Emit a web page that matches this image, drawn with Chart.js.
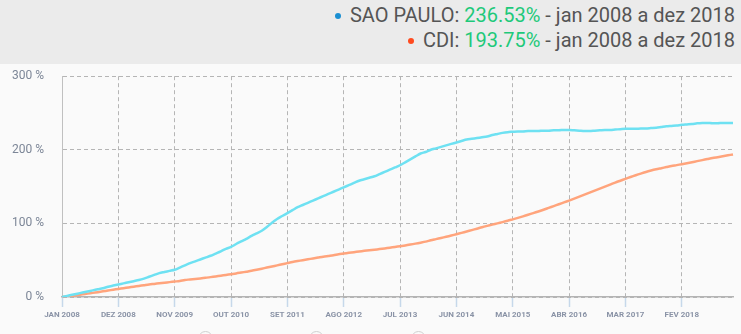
<!DOCTYPE html>
<html>
<head>
<meta charset="utf-8">
<script src="https://cdn.jsdelivr.net/npm/chart.js@4.4.1/dist/chart.umd.min.js"></script>
<style>
  html, body { margin: 0; padding: 0; }
  body { width: 741px; height: 334px; background: #fafafa; position: relative; overflow: hidden; font-family: Roboto, sans-serif; }
  #hdr { position: absolute; left: 0; top: 0; width: 741px; height: 64px; background: #ebebeb; z-index: 2; }
  .ln { position: absolute; right: 6px; font-size: 20px; color: #555; white-space: nowrap; line-height: 22px; }
  .ln .pct { color: #1ec97a; }
  .dot { display: inline-block; width: 6px; height: 6px; border-radius: 50%; vertical-align: middle; margin-right: 9px; position: relative; top: -1px; }
  #wrap { position: absolute; left: 0; top: 51px; width: 741px; height: 283px; z-index: 1; }
  .knob { position: absolute; top: 331px; width: 13px; height: 13px; border-radius: 50%; border: 1.5px solid #cfcfcf; background: #fafafa; z-index: 3; }
</style>
</head>
<body>
<div id="hdr">
  <div class="ln" style="top:4px"><span class="dot" style="background:#1a8fd2"></span>SAO PAULO: <span class="pct">236.53%</span> - jan 2008 a dez 2018</div>
  <div class="ln" style="top:29px"><span class="dot" style="background:#ff4b1f"></span>CDI: <span class="pct">193.75%</span> - jan 2008 a dez 2018</div>
</div>
<div id="wrap"><canvas id="c"></canvas></div>
<div class="knob" style="left:198px"></div>
<div class="knob" style="left:309px"></div>
<div class="knob" style="left:411px"></div>
<script>
const monthNames = ['JAN','FEV','MAR','ABR','MAI','JUN','JUL','AGO','SET','OUT','NOV','DEZ'];
const years = [2008,2009,2010,2011,2012,2013,2014,2015,2016,2017,2018];
const categories = [];
years.forEach(y => monthNames.forEach(m => categories.push(m + ' ' + y)));

const yTicks = [0, 100, 200, 300];

const saoPaulo = [
  0, 1.5, 3, 4.5, 6, 7.5, 9, 10.5, 12, 14, 15.5, 17,
  18.5, 20, 21.5, 23, 25, 27.5, 30, 32.5, 34, 35.5, 37, 40,
  43, 46, 48.5, 51, 53.5, 56, 59, 62, 65.5, 68, 72, 75.5,
  79, 83, 86.5, 90, 95, 101, 106, 110, 114, 118, 122, 125,
  128, 131, 134, 137, 140, 143, 146, 149, 152, 155, 158, 160,
  162, 164, 167, 170, 173, 176, 179, 183, 187, 191, 195, 197,
  200, 202, 204, 206, 208, 210, 212, 214, 215, 216, 217, 218,
  220, 221.5, 223, 224, 224.5, 225, 225, 225.5, 225.5, 225.5, 226, 226,
  226.5, 226.5, 227, 227, 226.5, 226, 225.5, 225.5, 226, 226.5, 227, 227,
  227.5, 228, 228.5, 228.5, 228.5, 229, 229, 229.5, 230, 231, 232, 232.5,
  233, 234, 234.5, 235, 236, 236.5, 236.5, 236, 236, 236.5, 236.5, 236.53
];

const cdi = [
  0, 0.8, 1.7, 2.6, 3.6, 4.6, 5.6, 6.6, 7.7, 8.8, 9.9, 11,
  12, 13, 14, 15, 16, 17, 17.8, 18.6, 19.4, 20.2, 21, 21.8,
  23.2, 23.8, 24.5, 25.2, 26, 27, 28, 29, 30, 31, 32, 33.2,
  34.4, 35.6, 37, 38.5, 40, 41.5, 43, 44.5, 46, 47.5, 48.8, 50,
  51.2, 52.4, 53.6, 54.8, 55.8, 56.8, 58, 59, 60, 60.9, 61.8, 62.7,
  63.5, 64.3, 65.1, 66, 67, 68, 69, 70, 71.2, 72.5, 73.8, 75.2,
  77, 78.6, 80.2, 81.8, 83.5, 85.3, 87.1, 89, 90.9, 92.8, 94.8, 96.6,
  98.3, 100, 101.7, 103.5, 105.5, 107.5, 109.6, 111.8, 114, 116.2, 118.5, 121,
  123.5, 126, 128.5, 131, 133.6, 136.3, 139, 141.8, 144.6, 147.3, 150, 152.8,
  155.5, 158, 160.5, 163, 165.4, 167.7, 169.9, 171.8, 173.5, 175, 176.5, 178,
  179.2, 180.5, 181.8, 183.2, 184.6, 186, 187.4, 188.8, 190, 191.2, 192.5, 193.75
];

const tickEvery = 11;

new Chart(document.getElementById('c'), {
  type: 'line',
  data: {
    labels: categories,
    datasets: [
      { label: 'SAO PAULO', data: saoPaulo, borderColor: '#6ee1f2', borderWidth: 2.5, pointRadius: 0, tension: 0.3, fill: false },
      { label: 'CDI', data: cdi, borderColor: '#ffa47c', borderWidth: 2.5, pointRadius: 0, tension: 0.3, fill: false }
    ]
  },
  options: {
    responsive: true,
    maintainAspectRatio: false,
    animation: false,
    devicePixelRatio: 1,
    layout: { padding: { top: 11, right: 8, left: 0, bottom: 0 } },
    plugins: { legend: { display: false }, tooltip: { enabled: false } },
    scales: {
      x: {
        type: 'category',
        offset: false,
        afterBuildTicks: s => { s.ticks = s.ticks.filter((t, i) => i % tickEvery === 0); },
        afterFit: s => { s.height = 37; },
        grid: { color: '#b5b5b5', lineWidth: 1, drawTicks: true, tickLength: 10, tickColor: '#c6d8ea', tickBorderDash: [], tickWidth: 1.5 },
        border: { display: true, color: '#b4b4b4', width: 1.5, dash: [4, 3] },
        ticks: { autoSkip: false, maxRotation: 0, minRotation: 0, padding: 3, color: '#8a93a6', font: { family: 'Roboto', size: 8, weight: 'bold' } }
      },
      y: {
        min: 0, max: 300,
        afterBuildTicks: s => { s.ticks = yTicks.map(v => ({ value: v })); },
        afterFit: s => { s.width = 62; },
        grid: { color: '#b5b5b5', lineWidth: 1, drawTicks: false },
        border: { display: true, color: '#c0c0c0', width: 1, dash: [4, 3] },
        ticks: { padding: 18, color: '#7c8697', font: { family: 'Roboto', size: 12 }, callback: v => v + ' %' }
      }
    }
  }
});
</script>
</body>
</html>
